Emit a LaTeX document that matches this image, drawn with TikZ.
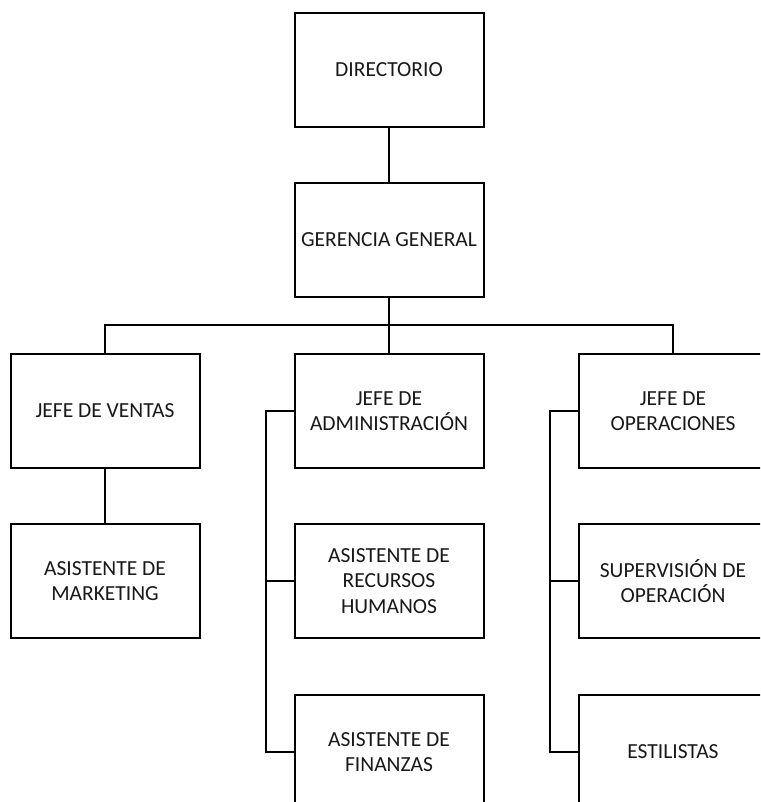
\documentclass[tikz,border=0pt]{standalone}
\usepackage{fontspec}
\setmainfont{Carlito}
\begin{document}
\begin{tikzpicture}[x=1pt,y=-1pt,
  unit/.style={draw=black, line width=2pt, minimum width=189pt, minimum height=114pt,
    inner sep=2pt, align=center, font=\fontsize{21.5pt}{25.5pt}\selectfont, text=black!90},
  link/.style={draw=black, line width=2pt}]
\useasboundingbox (0,0) rectangle (760,802);
\clip (0,0) rectangle (760,802);
\fill[white] (0,0) rectangle (760,802);

% top of the hierarchy
\node[unit] (dir) at (389,70) {DIRECTORIO};
\node[unit] (ger) at (389,240) {GERENCIA GENERAL};

% heads of area
\node[unit] (ven) at (105,411) {JEFE DE VENTAS};
\node[unit] (adm) at (389,411) {JEFE DE\\ADMINISTRACIÓN};
\node[unit] (ope) at (673,411) {JEFE DE\\OPERACIONES};

% staff
\node[unit] (mkt) at (105,581) {ASISTENTE DE\\MARKETING};
\node[unit] (rrh) at (389,581) {ASISTENTE DE\\RECURSOS\\HUMANOS};
\node[unit] (fin) at (389,752) {ASISTENTE DE\\FINANZAS};
\node[unit] (sup) at (673,581) {SUPERVISIÓN DE\\OPERACIÓN};
\node[unit] (est) at (673,752) {ESTILISTAS};

\coordinate (bus) at (389,325);

% reporting lines
\draw[link] (dir.south) -- (ger.north);
\draw[link] (ger.south) -- (adm.north);
\draw[link] (ven.north) |- (bus) -| (ope.north);
\draw[link] (ven.south) -- (mkt.north);

% administration branch
\draw[link] (adm.west) -- ++(-28,0) coordinate (ab) |- (fin.west);
\draw[link] (rrh.west) -- (rrh.west -| ab);

% operations branch
\draw[link] (ope.west) -- ++(-28,0) coordinate (ob) |- (est.west);
\draw[link] (sup.west) -- (sup.west -| ob);
\end{tikzpicture}
\end{document}
